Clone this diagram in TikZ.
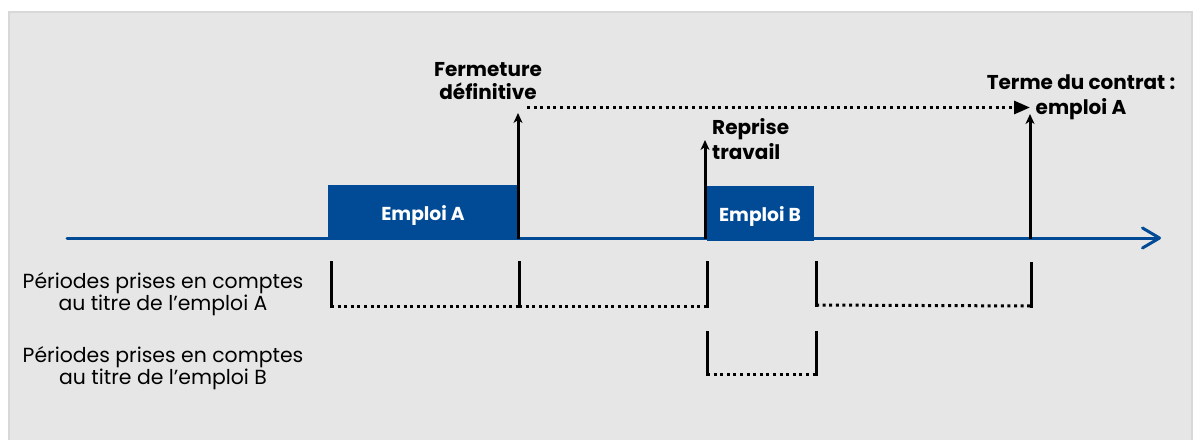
\documentclass[tikz,border=0pt]{standalone}
\usepackage{fontspec}
\setmainfont{Poppins}
\usetikzlibrary{arrows.meta}
\definecolor{bleu}{HTML}{004A96}
\definecolor{fond}{HTML}{E6E6E6}
\definecolor{bord}{HTML}{D8D8D8}
\begin{document}
\begin{tikzpicture}[x=1pt,y=-1pt,
  jobbox/.style={fill=bleu, draw=none, inner sep=0pt, anchor=north west},
  jobtxt/.style={text=white, font=\fontsize{18.7}{22}\selectfont\bfseries, inner sep=0pt, anchor=base},
  evt/.style={font=\fontsize{20}{23}\selectfont\bfseries, align=center, inner sep=0pt},
  evtwide/.style={font=\fontsize{20}{25}\selectfont\bfseries, inner sep=0pt},
  lbl/.style={font=\fontsize{20.4}{22}\selectfont, align=center, inner sep=0pt},
  tickline/.style={line width=3pt, black},
  dotline/.style={line width=3pt, dash pattern=on 3pt off 3.6pt, black},
  uparrow/.style={line width=3pt, black, -{Stealth[length=10pt,width=9pt,inset=3pt]}},
]
\useasboundingbox (0,0) rectangle (1193,439);
\fill[white] (0,0) rectangle (1193,439);
\filldraw[fill=fond, draw=bord, line width=2pt] (9,12) rectangle (1192,445);

% axis
\coordinate (ax0) at (67,238);
\coordinate (ax1) at (1161,238);
\draw[bleu, line width=3pt, line cap=round,
  -{Straight Barb[length=17pt,width=20pt,line cap=round,line join=round]}] (ax0) -- (ax1);

% job boxes
\node[jobbox, minimum width=190pt, minimum height=53pt] (boxA) at (328,185) {};
\node[jobbox, minimum width=107pt, minimum height=55pt] (boxB) at (707,186) {};
\node[jobtxt] (txtA) at (423,220.7) {Emploi A};
\node[jobtxt] (txtB) at (760,221.7) {Emploi B};

% event arrows
\coordinate (f0) at (518,239);
\coordinate (f1) at (518,113);
\coordinate (r0) at (705,239);
\coordinate (r1) at (705,140);
\coordinate (t0) at (1030,239);
\coordinate (t1) at (1030,114);
\draw[uparrow] (f0) -- (f1);
\draw[uparrow] (r0) -- (r1);
\draw[uparrow] (t0) -- (t1);

\coordinate (d0) at (527,107.5);
\coordinate (d1) at (1030,107.5);
\draw[dotline, -{Triangle[length=16pt,width=13pt]}] (d0) -- (d1);

\node[evt, anchor=base] (ferm) at (488,99.3) {Fermeture\\définitive};
\node[evtwide, align=center, anchor=base] (terme) at (1081,114.5) {Terme du contrat :\\emploi A};
\node[evtwide, anchor=base west, align=left] (repr) at (712,159) {Reprise\\travail};

% period labels
\node[lbl, anchor=base] (lblA) at (163,310) {Périodes prises en comptes\\au titre de l’emploi A};
\node[lbl, anchor=base] (lblB) at (163,384) {Périodes prises en comptes\\au titre de l’emploi B};

% period ticks row A
\coordinate (a1t) at (331,261); \coordinate (a1b) at (331,306);
\coordinate (a2t) at (519,261); \coordinate (a2b) at (519,306);
\coordinate (a3t) at (707,261); \coordinate (a3b) at (707,306);
\coordinate (a4t) at (816,261); \coordinate (a4b) at (816,305);
\coordinate (a5t) at (1031,262); \coordinate (a5b) at (1031,306);
\foreach \p in {a1,a2,a3,a4,a5} \draw[tickline] (\p t) -- ([yshift=-1.5pt]\p b);
\draw[dotline] (a1b) -- (a2b);
\draw[dotline] (a2b) -- (a3b);
\draw[dotline] (a4b) -- (a5b);

% period ticks row B
\coordinate (b1t) at (707,331); \coordinate (b1b) at (707,374);
\coordinate (b2t) at (816,331); \coordinate (b2b) at (816,374);
\foreach \p in {b1,b2} \draw[tickline] (\p t) -- ([yshift=-1.5pt]\p b);
\draw[dotline] (b1b) -- (b2b);
\end{tikzpicture}
\end{document}
